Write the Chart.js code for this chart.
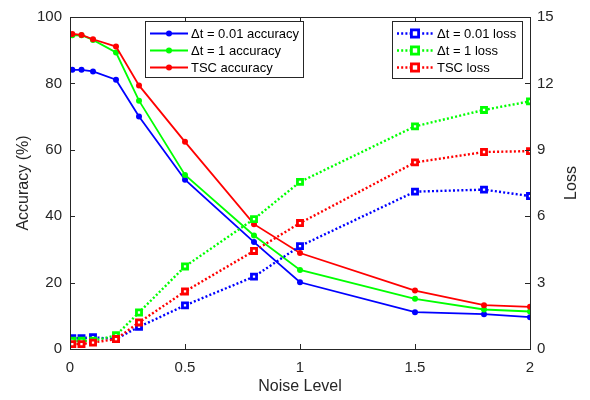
<!DOCTYPE html>
<html>
<head>
<meta charset="utf-8">
<script src="https://cdn.jsdelivr.net/npm/chart.js@4"></script>
<style>
html,body{margin:0;padding:0;background:#fff;}
#wrap{width:590px;height:400px;position:relative;}
</style>
</head>
<body>
<div id="wrap"><canvas id="c" width="590" height="400"></canvas></div>
<script>
const noiseLevels = [0.01, 0.05, 0.1, 0.2, 0.3, 0.5, 0.8, 1, 1.5, 1.8, 2];
const accDt001 = [84.1, 84.1, 83.6, 81.1, 70.0, 51.0, 32.2, 20.1, 11.1, 10.5, 9.6];
const accDt1   = [94.5, 94.5, 93.1, 89.3, 74.8, 52.4, 34.2, 23.8, 15.1, 11.9, 11.3];
const accTSC   = [94.9, 94.6, 93.3, 91.1, 79.4, 62.4, 37.6, 28.9, 17.6, 13.2, 12.7];
const lossDt001 = [0.49, 0.49, 0.53, 0.45, 1.0, 1.97, 3.27, 4.65, 7.11, 7.2, 6.91];
const lossDt1   = [0.37, 0.37, 0.37, 0.62, 1.65, 3.73, 5.87, 7.55, 10.06, 10.8, 11.19];
const lossTSC   = [0.22, 0.22, 0.29, 0.45, 1.2, 2.6, 4.43, 5.69, 8.43, 8.9, 8.94];
const xTicks = [0, 0.5, 1, 1.5, 2];
const accTicks = [0, 20, 40, 60, 80, 100];
const lossTicks = [0, 3, 6, 9, 12, 15];
const accLabels = ['\u0394t = 0.01 accuracy', '\u0394t = 1 accuracy', 'TSC accuracy'];
const lossLabels = ['\u0394t = 0.01 loss', '\u0394t = 1 loss', 'TSC loss'];
const lossTitle = 'Loss';

const BLUE = '#0000ff', GREEN = '#00ff00', RED = '#ff0000', AX = '#262626';
const FONT = '"Liberation Sans", Arial, sans-serif';

function pts(ys){ return ys.map((y,i)=>({x:noiseLevels[i], y:y})); }
function accDs(label, data, color, order){
  return {label, data: pts(data), yAxisID:'y', borderColor:color, backgroundColor:color,
    borderWidth:1.8, pointRadius:3, pointHoverRadius:3, pointBorderWidth:0, pointStyle:'circle', order, tension:0};
}
function lossDs(label, data, color, order){
  return {label, data: pts(data), yAxisID:'y1', borderColor:color, backgroundColor:'#ffffff',
    borderWidth:2.4, borderDash:[2,2.2], pointRadius:3.6, pointHoverRadius:3.6, pointBorderWidth:2.8,
    pointStyle:'rect', order, tension:0};
}

const boxPlugin = {
  id:'boxPlugin',
  afterDatasetsDraw(chart){
    const {ctx, chartArea:a, scales} = chart;
    ctx.save();
    ctx.strokeStyle = AX; ctx.lineWidth = 1;
    ctx.strokeRect(Math.round(a.left)+0.5, Math.round(a.top)+0.5, Math.round(a.right-a.left), Math.round(a.bottom-a.top));
    const tl = 5;
    ctx.beginPath();
    xTicks.forEach(v=>{
      const px = Math.round(scales.x.getPixelForValue(v))+0.5;
      ctx.moveTo(px, a.bottom); ctx.lineTo(px, a.bottom - tl);
      ctx.moveTo(px, a.top); ctx.lineTo(px, a.top + tl);
    });
    accTicks.forEach(v=>{
      const py = Math.round(scales.y.getPixelForValue(v))+0.5;
      ctx.moveTo(a.left, py); ctx.lineTo(a.left + tl, py);
    });
    lossTicks.forEach(v=>{
      const py = Math.round(scales.y1.getPixelForValue(v))+0.5;
      ctx.moveTo(a.right, py); ctx.lineTo(a.right - tl, py);
    });
    ctx.stroke();

    // right axis title (reads bottom-to-top)
    ctx.save();
    ctx.translate(572, (a.top + a.bottom)/2);
    ctx.rotate(-Math.PI/2);
    ctx.fillStyle = AX;
    ctx.font = '16px ' + FONT;
    ctx.textAlign = 'center'; ctx.textBaseline = 'middle';
    ctx.fillText(lossTitle, 0, 0);
    ctx.restore();

    // legends
    function legend(x, y, w, h, items, lineX0, lineX1, textX){
      ctx.fillStyle = '#fff';
      ctx.fillRect(x, y, w, h);
      ctx.strokeStyle = AX; ctx.lineWidth = 1;
      ctx.strokeRect(x+0.5, y+0.5, w, h);
      items.forEach((it, i)=>{
        const ds = chart.data.datasets[it];
        const cy = y + 12.5 + i*17;
        ctx.save();
        ctx.strokeStyle = ds.borderColor;
        ctx.lineWidth = ds.borderWidth;
        ctx.setLineDash(ds.borderDash || []);
        ctx.beginPath(); ctx.moveTo(lineX0, cy); ctx.lineTo(lineX1, cy); ctx.stroke();
        ctx.setLineDash([]);
        const mx = (lineX0+lineX1)/2;
        if (ds.pointStyle === 'rect'){
          const r = ds.pointRadius;
          ctx.fillStyle = '#fff';
          ctx.fillRect(mx-r, cy-r, 2*r, 2*r);
          ctx.lineWidth = ds.pointBorderWidth;
          ctx.strokeRect(mx-r, cy-r, 2*r, 2*r);
        } else {
          ctx.fillStyle = ds.borderColor;
          ctx.beginPath(); ctx.arc(mx, cy, ds.pointRadius, 0, Math.PI*2); ctx.fill();
        }
        ctx.restore();
        ctx.fillStyle = '#000';
        ctx.font = '13px ' + FONT;
        ctx.textBaseline = 'middle';
        ctx.textAlign = 'left';
        ctx.fillText(ds.label, textX, cy + 0.5);
      });
    }
    legend(145, 21, 158, 56, [0,1,2], 150, 188, 191);
    legend(392, 21, 130, 57, [3,4,5], 397, 433, 437);
    ctx.restore();
  }
};

new Chart(document.getElementById('c'), {
  type:'line',
  data:{ datasets:[
    accDs(accLabels[0], accDt001, BLUE, 12),
    accDs(accLabels[1], accDt1, GREEN, 11),
    accDs(accLabels[2], accTSC, RED, 10),
    lossDs(lossLabels[0], lossDt001, BLUE, 3),
    lossDs(lossLabels[1], lossDt1, GREEN, 2),
    lossDs(lossLabels[2], lossTSC, RED, 1)
  ]},
  options:{
    responsive:false, animation:false, devicePixelRatio:1,
    layout:{ padding:{ top:12, left:0, right:0, bottom:0 } },
    plugins:{ legend:{display:false}, tooltip:{enabled:false} },
    elements:{ line:{ fill:false } },
    scales:{
      x:{ type:'linear', min:0, max:2, position:'bottom',
        afterBuildTicks(s){ s.ticks = xTicks.map(v=>({value:v})); },
        afterFit(s){ s.height = 51; },
        grid:{ display:false, drawTicks:false },
        border:{ display:false },
        ticks:{ padding:10, color:AX, font:{family:FONT, size:15}, maxRotation:0,
          callback:(v)=>String(v) },
        title:{ display:true, text:'Noise Level', color:AX, font:{family:FONT, size:16}, padding:{top:2,bottom:4} }
      },
      y:{ type:'linear', min:0, max:100, position:'left',
        afterBuildTicks(s){ s.ticks = accTicks.map(v=>({value:v})); },
        afterFit(s){ s.width = 70; },
        grid:{ display:false, drawTicks:false },
        border:{ display:false },
        ticks:{ padding:8, color:AX, font:{family:FONT, size:15} },
        title:{ display:true, text:'Accuracy (%)', color:AX, font:{family:FONT, size:16}, padding:{top:14,bottom:0} }
      },
      y1:{ type:'linear', min:0, max:15, position:'right',
        afterBuildTicks(s){ s.ticks = lossTicks.map(v=>({value:v})); },
        afterFit(s){ s.width = 60; },
        grid:{ display:false, drawTicks:false },
        border:{ display:false },
        ticks:{ padding:7, color:AX, font:{family:FONT, size:15} },
        title:{ display:false }
      }
    }
  },
  plugins:[boxPlugin]
});
</script>
</body>
</html>
